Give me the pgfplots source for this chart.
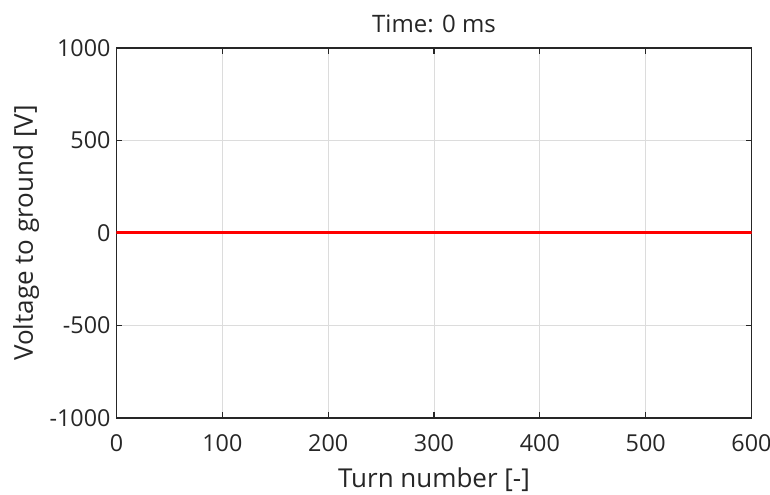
\documentclass[border=0pt]{standalone}
\usepackage{pgfplots}
\pgfplotsset{compat=1.18}
\usetikzlibrary{calc}
\usepackage{fontspec}
\setmainfont{Open Sans}
\definecolor{axgray}{RGB}{38,38,38}
\definecolor{gridgray}{RGB}{220,220,220}
\begin{document}
\begin{tikzpicture}[x=1pt,y=1pt]
\begin{axis}[
  scale only axis,
  width=476.25pt, height=277.5pt,
  xmin=0, xmax=600, ymin=-1000, ymax=1000,
  xtick={0,100,...,600}, ytick={-1000,-500,0,500,1000},
  grid=major,
  major grid style={gridgray, line width=0.6pt},
  axis line style={axgray, line width=0.9pt},
  tick style={axgray, line width=0.9pt},
  tick align=inside,
  major tick length=4.5pt,
  xtick pos=both, ytick pos=both,
  /pgf/number format/assume math mode=true,
  /pgf/number format/set thousands separator={},
  ticklabel style={font=\fontsize{17.5}{21}\selectfont, text=axgray},
  xticklabel style={yshift=-9pt},
  yticklabel style={xshift=-1pt},
  xlabel={Turn number [-]},
  ylabel={Voltage to ground [V]},
  label style={font=\fontsize{19.5}{23}\selectfont, text=axgray},
  xlabel style={yshift=-5pt},
  ylabel style={yshift=1pt},
  title={Time: 0 ms},
  title style={font=\fontsize{18}{21}\selectfont, text=axgray, yshift=1.5pt},
]
\addplot[red, line width=2.25pt] coordinates {(0,0) (100,0) (200,0) (300,0) (400,0) (500,0) (600,0)};
\end{axis}
\pgfresetboundingbox
\useasboundingbox ($(current axis.south west)+(-87.375pt,-57.75pt)$) rectangle ($(current axis.north east)+(13.875pt,36pt)$);
\end{tikzpicture}
\end{document}
